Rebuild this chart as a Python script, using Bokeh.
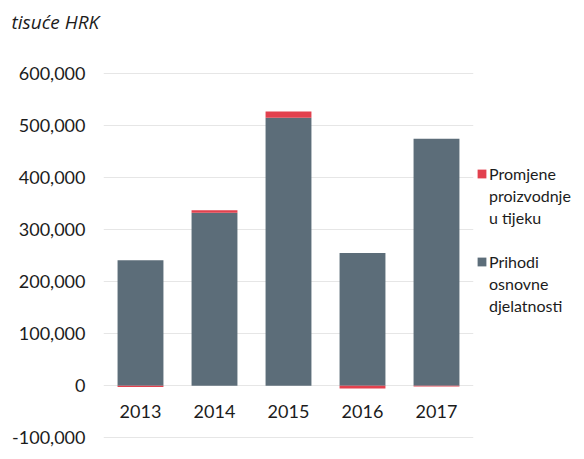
from bokeh.plotting import figure
from bokeh.models import (FactorRange, Range1d, NumeralTickFormatter, SingleIntervalTicker,
                          Legend, LegendItem, ColumnDataSource, Title)
from bokeh.embed import file_html
from bokeh.resources import INLINE

years = ["2013", "2014", "2015", "2016", "2017"]
prihodi = [241000, 332000, 514000, 255000, 474000]          # Prihodi osnovne djelatnosti
promjene = [-2000, 5000, 12000, -5000, -1500]               # Promjene proizvodnje u tijeku
label_promjene_lines = ["Promjene", "proizvodnje", "u tijeku"]
label_prihodi_lines = ["Prihodi", "osnovne", "djelatnosti"]
title_text = "tisuće HRK"

GRAY = "#5c6d79"
RED = "#e2414e"
TXT = "#1c1c1c"
FONT = "Lato"

bottom_red = [p if r >= 0 else 0 for p, r in zip(prihodi, promjene)]
top_red = [p + r if r >= 0 else r for p, r in zip(prihodi, promjene)]

src = ColumnDataSource(dict(x=years, gray_top=prihodi, zero=[0] * len(years),
                            red_bottom=bottom_red, red_top=top_red))

p = figure(x_range=FactorRange(*years, range_padding=0.0),
           y_range=Range1d(-101000, 601000),
           frame_width=370, frame_height=366, output_backend="svg", toolbar_location=None,
           min_border_left=103, min_border_right=0, min_border_top=72, min_border_bottom=10)

g = p.vbar(x="x", top="gray_top", bottom="zero", width=0.62, source=src,
           fill_color=GRAY, line_color=None)
r = p.vbar(x="x", top="red_top", bottom="red_bottom", width=0.62, source=src,
           fill_color=RED, line_color=None)
# transparent renderer used for the continuation lines of the wrapped legend labels
blank = p.vbar(x=[], top=[], width=0.5, fill_alpha=0, line_alpha=0)

p.outline_line_color = None
p.background_fill_color = "white"
p.border_fill_color = "white"

p.xgrid.grid_line_color = None
p.ygrid.grid_line_color = "#e6e6e6"
p.ygrid.grid_line_width = 1

yax = p.yaxis[0]
yax.ticker = SingleIntervalTicker(interval=100000)
yax.formatter = NumeralTickFormatter(format="0,0")
yax.axis_line_color = None
yax.major_tick_line_color = None
yax.minor_tick_line_color = None
yax.major_tick_out = 0
yax.major_tick_in = 0
yax.major_label_standoff = 14
yax.major_label_text_font = FONT
yax.major_label_text_font_size = "18px"
yax.major_label_text_color = TXT

xax = p.xaxis[0]
xax.fixed_location = 0
xax.axis_line_color = None
xax.major_tick_line_color = None
xax.minor_tick_line_color = None
xax.major_tick_out = 0
xax.major_tick_in = 0
xax.major_label_standoff = 19
xax.major_label_text_font = FONT
xax.major_label_text_font_size = "18px"
xax.major_label_text_color = TXT

# empty spacer between the frame and the title, pushing the title up
spacer = Title(text=" ", text_font_size="1px", standoff=35)
p.add_layout(spacer, "above")

p.title.text = title_text
p.title.text_font = "Open Sans"
p.title.text_font_style = "italic"
p.title.text_font_size = "19px"
p.title.text_color = TXT
p.title.align = "left"
p.title.vertical_align = "bottom"
p.title.offset = -92
p.title.standoff = 0

items = [LegendItem(label=label_promjene_lines[0], renderers=[r])]
items += [LegendItem(label=t, renderers=[blank]) for t in label_promjene_lines[1:]]
items += [LegendItem(label=" ", renderers=[blank])]
items += [LegendItem(label=label_prihodi_lines[0], renderers=[g])]
items += [LegendItem(label=t, renderers=[blank]) for t in label_prihodi_lines[1:]]

legend = Legend(items=items, location=(3, 122), orientation="vertical",
                border_line_color=None, background_fill_alpha=0,
                label_text_font=FONT, label_text_font_size="16px",
                label_text_color=TXT, label_height=22,
                glyph_width=11, glyph_height=11, label_standoff=2,
                spacing=0, padding=0, margin=0)
p.add_layout(legend, "right")

open("out.html", "w").write(file_html(p, INLINE))
